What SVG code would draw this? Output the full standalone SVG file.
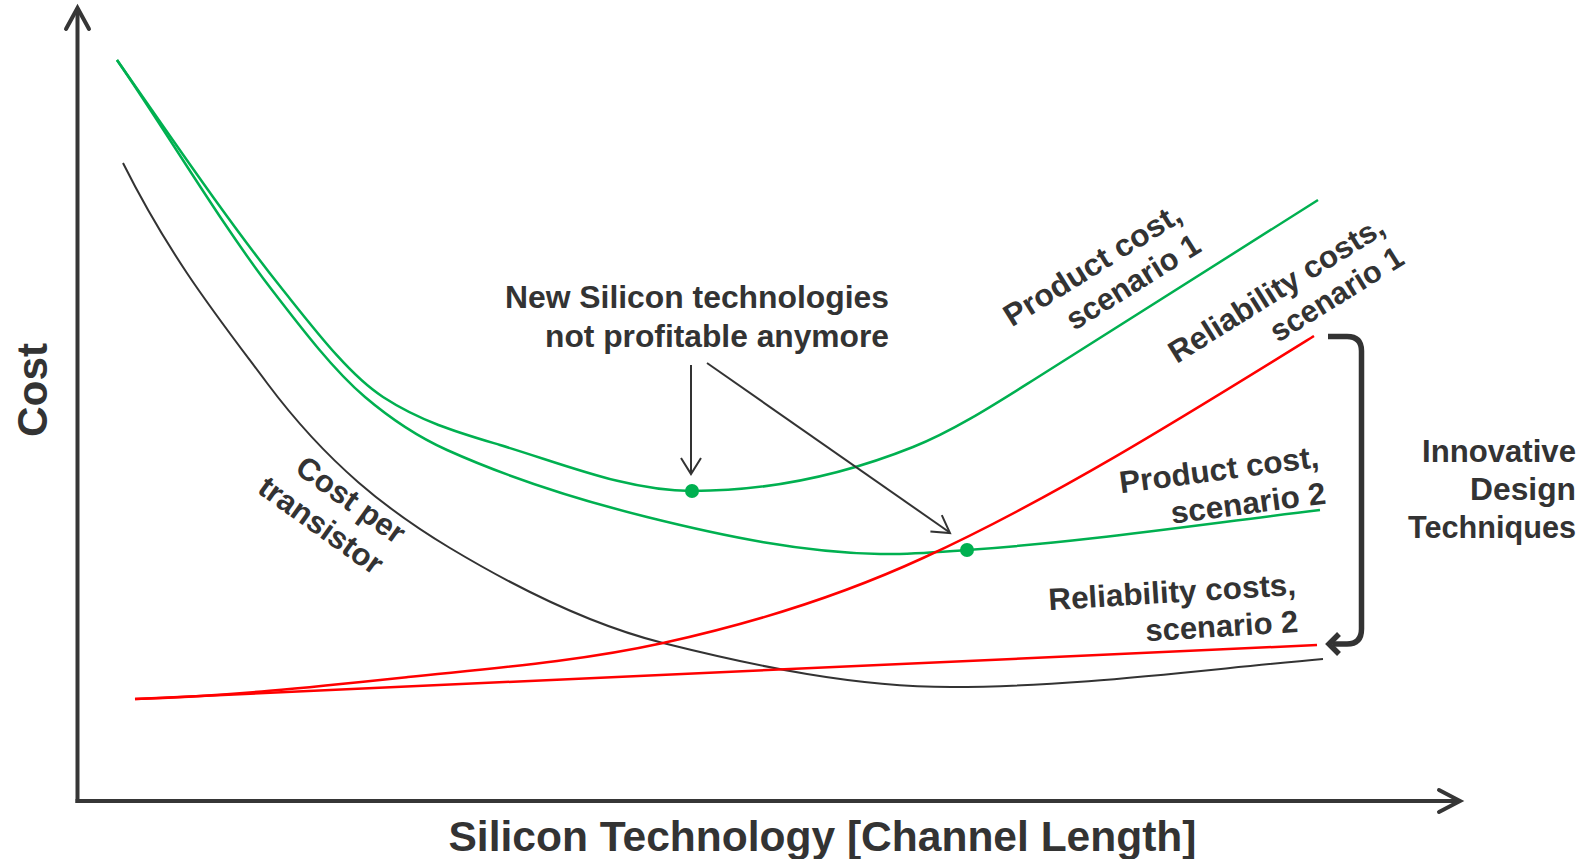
<svg xmlns="http://www.w3.org/2000/svg" width="1589" height="859" viewBox="0 0 1589 859">
  <style>
    .lbl { font-family: "Liberation Sans", Arial, sans-serif; font-weight: bold; fill: #333333; font-size: 31px; }
    .axis { stroke: #363636; stroke-width: 4; fill: none; stroke-linecap: square; }
    .axhead { stroke: #363636; stroke-width: 4; fill: none; stroke-linecap: round; stroke-linejoin: miter; }
    .green { stroke: #00b050; stroke-width: 2.5; fill: none; }
    .red { stroke: #ff0000; stroke-width: 2.5; fill: none; }
    .black { stroke: #333333; stroke-width: 2; fill: none; }
    .ptr { stroke: #333333; stroke-width: 2; fill: none; }
    .bracket { stroke: #333333; stroke-width: 5.5; fill: none; }
    .dot { fill: #00b050; }
  </style>
  <rect width="1589" height="859" fill="#ffffff"/>

  <g id="axes">
    <path class="axis" d="M77.5,801 V10"/>
    <path class="axhead" d="M66,29 L77.5,8 L89,29"/>
    <path class="axis" d="M77.5,801 H1458"/>
    <path class="axhead" d="M1439,790 L1460,801 L1439,812"/>
    <text class="lbl" style="font-size:43px" transform="translate(47,390) rotate(-90)" text-anchor="middle" textLength="94" lengthAdjust="spacingAndGlyphs">Cost</text>
    <text class="lbl" style="font-size:43px" x="822.5" y="851" text-anchor="middle" textLength="748" lengthAdjust="spacingAndGlyphs">Silicon Technology [Channel Length]</text>
  </g>

  <g id="curves">
    <path id="cost-per-transistor" class="black" d="M123,163 C171,259 219,318.7 267,383 C328,464.7 389,511.4 450,548 C521,590.6 592,625.25 663,643 C759,667 855,687 951,687 C1075,687 1199,670 1323,659"/>
    <path id="product-cost-1" class="green" d="M117,60 C172.3,139.1 227.7,220.8 283,290 C316.3,331.7 349.7,375.3 383,397 C422,422.4 461,433.3 500,445 C564,464.2 628,491 692,491 C765.7,491 839.3,476.5 913,447 C953.7,430.7 994.3,404.6 1035,379 L1318,200"/>
    <path id="product-cost-2" class="green" d="M117,60 C168.7,135 220.3,222.8 272,290 C303,330.3 334,370.6 365,397 C392.3,420.2 419.7,437.7 447,450 C513.7,480 580.3,500.3 647,517 C724.7,536.4 802.3,552.4 880,554 C909,554.6 938,552 967,550 C1084.7,541.8 1202.3,524.1 1320,510"/>
    <path id="reliability-1" class="red" d="M135,699 C226,696.3 317,686.6 408,677 C493,668.1 578,661.7 663,643 C749.7,623.9 836.3,597.9 923,558 C1053.3,498.1 1183.7,416.8 1314,336"/>
    <path id="reliability-2" class="red" d="M135,699 L1317,645"/>
    <circle class="dot" cx="692" cy="491" r="7"/>
    <circle class="dot" cx="967" cy="550" r="7"/>
  </g>

  <g id="connectors">
    <path class="ptr" d="M691,365 V473"/>
    <path class="ptr" d="M681,458 L691,474 L701,458"/>
    <path class="ptr" d="M707,363 L949,532"/>
    <path class="ptr" d="M930.4,531.5 L950,533 L941.8,515.1"/>
    <path class="bracket" d="M1328,336.5 H1347 Q1361.5,336.5 1361.5,351 V629 Q1361.5,644 1347,644 H1333"/>
    <path class="bracket" d="M1339,634 L1329,644 L1339,654"/>
  </g>

  <g id="label-new-silicon">
    <text class="lbl" x="889" y="308" text-anchor="end" textLength="384" lengthAdjust="spacingAndGlyphs">New Silicon technologies</text>
    <text class="lbl" x="889" y="347" text-anchor="end" textLength="344" lengthAdjust="spacingAndGlyphs">not profitable anymore</text>
  </g>

  <g id="label-product-cost-1" transform="translate(1184,220) rotate(-32)">
    <text class="lbl" x="0" y="0" text-anchor="end" textLength="203" lengthAdjust="spacingAndGlyphs">Product cost,</text>
    <text class="lbl" x="0" y="36" text-anchor="end" textLength="152" lengthAdjust="spacingAndGlyphs">scenario 1</text>
  </g>

  <g id="label-reliability-1" transform="translate(1387,232.5) rotate(-32)">
    <text class="lbl" x="0" y="0" text-anchor="end" textLength="248" lengthAdjust="spacingAndGlyphs">Reliability costs,</text>
    <text class="lbl" x="0" y="36" text-anchor="end" textLength="151" lengthAdjust="spacingAndGlyphs">scenario 1</text>
  </g>

  <g id="label-product-cost-2" transform="translate(1320,467) rotate(-7.5)">
    <text class="lbl" x="0" y="0" text-anchor="end" textLength="201" lengthAdjust="spacingAndGlyphs">Product cost,</text>
    <text class="lbl" x="2" y="37" text-anchor="end" textLength="156" lengthAdjust="spacingAndGlyphs">scenario 2</text>
  </g>

  <g id="label-reliability-2" transform="translate(1296.5,595) rotate(-3.5)">
    <text class="lbl" x="0" y="0" text-anchor="end" textLength="248" lengthAdjust="spacingAndGlyphs">Reliability costs,</text>
    <text class="lbl" x="0" y="37" text-anchor="end" textLength="153" lengthAdjust="spacingAndGlyphs">scenario 2</text>
  </g>

  <g id="label-cost-per-transistor" transform="translate(396,545) rotate(35.5)">
    <text class="lbl" x="0" y="0" text-anchor="end" textLength="126" lengthAdjust="spacingAndGlyphs">Cost per</text>
    <text class="lbl" x="0" y="38" text-anchor="end" textLength="145" lengthAdjust="spacingAndGlyphs">transistor</text>
  </g>

  <g id="label-innovative">
    <text class="lbl" x="1576" y="462" text-anchor="end" textLength="154" lengthAdjust="spacingAndGlyphs">Innovative</text>
    <text class="lbl" x="1576" y="500" text-anchor="end" textLength="106" lengthAdjust="spacingAndGlyphs">Design</text>
    <text class="lbl" x="1576" y="538" text-anchor="end" textLength="168" lengthAdjust="spacingAndGlyphs">Techniques</text>
  </g>
</svg>
